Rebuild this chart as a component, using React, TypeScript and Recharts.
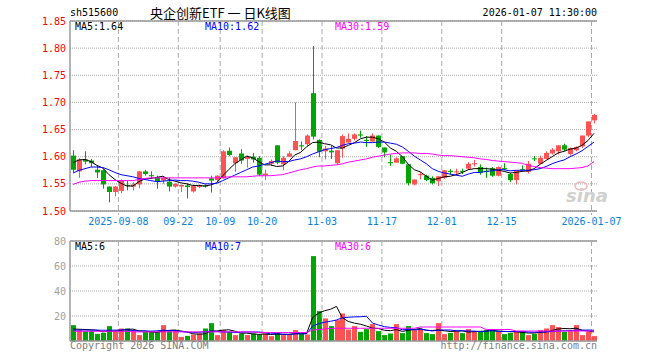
import React from "react";
import {
  ComposedChart,
  Bar,
  Line,
  XAxis,
  YAxis,
  CartesianGrid,
  ReferenceLine,
} from "recharts";

// trading days shown on the K-line chart
const dates = [
  "2025-08-27", "2025-08-28", "2025-08-29", "2025-09-01", "2025-09-02", "2025-09-03", "2025-09-04", "2025-09-05",
  "2025-09-08", "2025-09-09", "2025-09-10", "2025-09-11", "2025-09-12", "2025-09-15", "2025-09-16", "2025-09-17",
  "2025-09-18", "2025-09-19", "2025-09-22", "2025-09-23", "2025-09-24", "2025-09-25", "2025-09-26", "2025-09-29",
  "2025-09-30", "2025-10-09", "2025-10-10", "2025-10-13", "2025-10-14", "2025-10-15", "2025-10-16", "2025-10-17",
  "2025-10-20", "2025-10-21", "2025-10-22", "2025-10-23", "2025-10-24", "2025-10-27", "2025-10-28", "2025-10-29",
  "2025-10-30", "2025-10-31", "2025-11-03", "2025-11-04", "2025-11-05", "2025-11-06", "2025-11-07", "2025-11-10",
  "2025-11-11", "2025-11-12", "2025-11-13", "2025-11-14", "2025-11-17", "2025-11-18", "2025-11-19", "2025-11-20",
  "2025-11-21", "2025-11-24", "2025-11-25", "2025-11-26", "2025-11-27", "2025-11-28", "2025-12-01", "2025-12-02",
  "2025-12-03", "2025-12-04", "2025-12-05", "2025-12-08", "2025-12-09", "2025-12-10", "2025-12-11", "2025-12-12",
  "2025-12-15", "2025-12-16", "2025-12-17", "2025-12-18", "2025-12-19", "2025-12-22", "2025-12-23", "2025-12-24",
  "2025-12-25", "2025-12-26", "2025-12-29", "2025-12-30", "2025-12-31", "2026-01-05", "2026-01-06", "2026-01-07",
];

const opens = [
  1.602, 1.573, 1.595, 1.593, 1.576, 1.575, 1.545, 1.535, 1.537, 1.548,
  1.545, 1.549, 1.573, 1.566, 1.562, 1.556, 1.554, 1.545, 1.545, 1.547,
  1.536, 1.544, 1.547, 1.560, 1.557, 1.560, 1.611, 1.588, 1.606, 1.596,
  1.600, 1.598, 1.566, 1.587, 1.621, 1.586, 1.600, 1.612, 1.621, 1.623,
  1.717, 1.631, 1.610, 1.611, 1.588, 1.615, 1.626, 1.633, 1.641, 1.631,
  1.628, 1.639, 1.617, 1.590, 1.589, 1.601, 1.586, 1.549, 1.566, 1.565,
  1.561, 1.555, 1.561, 1.574, 1.571, 1.574, 1.578, 1.586, 1.581, 1.574,
  1.579, 1.565, 1.579, 1.568, 1.557, 1.577, 1.572, 1.597, 1.587, 1.596,
  1.606, 1.610, 1.621, 1.605, 1.612, 1.619, 1.639, 1.667,
];
const highs = [
  1.612, 1.597, 1.610, 1.596, 1.584, 1.577, 1.545, 1.546, 1.558, 1.557,
  1.553, 1.574, 1.576, 1.573, 1.565, 1.564, 1.562, 1.551, 1.549, 1.551,
  1.549, 1.549, 1.549, 1.565, 1.566, 1.612, 1.617, 1.599, 1.614, 1.602,
  1.607, 1.601, 1.576, 1.595, 1.621, 1.601, 1.610, 1.700, 1.628, 1.641,
  1.804, 1.632, 1.620, 1.620, 1.612, 1.641, 1.643, 1.643, 1.648, 1.638,
  1.643, 1.639, 1.617, 1.604, 1.599, 1.601, 1.586, 1.558, 1.572, 1.567,
  1.564, 1.564, 1.575, 1.577, 1.578, 1.578, 1.590, 1.594, 1.586, 1.580,
  1.581, 1.582, 1.588, 1.570, 1.575, 1.584, 1.592, 1.601, 1.602, 1.610,
  1.616, 1.621, 1.624, 1.617, 1.619, 1.639, 1.665, 1.679,
];
const lows = [
  1.571, 1.561, 1.586, 1.581, 1.561, 1.541, 1.516, 1.527, 1.533, 1.538,
  1.538, 1.542, 1.565, 1.559, 1.541, 1.550, 1.536, 1.543, 1.535, 1.523,
  1.534, 1.542, 1.543, 1.534, 1.553, 1.560, 1.601, 1.572, 1.587, 1.580,
  1.589, 1.564, 1.557, 1.583, 1.586, 1.575, 1.600, 1.612, 1.612, 1.620,
  1.632, 1.599, 1.595, 1.596, 1.586, 1.598, 1.626, 1.630, 1.635, 1.618,
  1.628, 1.616, 1.599, 1.583, 1.589, 1.586, 1.547, 1.547, 1.558, 1.555,
  1.549, 1.546, 1.559, 1.567, 1.565, 1.568, 1.576, 1.582, 1.567, 1.561,
  1.563, 1.564, 1.575, 1.553, 1.549, 1.573, 1.569, 1.592, 1.586, 1.595,
  1.604, 1.604, 1.610, 1.602, 1.610, 1.616, 1.636, 1.661,
];
const closes = [
  1.576, 1.595, 1.591, 1.588, 1.571, 1.549, 1.535, 1.545, 1.556, 1.547,
  1.549, 1.573, 1.568, 1.564, 1.554, 1.561, 1.545, 1.550, 1.548, 1.544,
  1.546, 1.547, 1.545, 1.556, 1.565, 1.610, 1.603, 1.599, 1.593, 1.600,
  1.595, 1.567, 1.569, 1.592, 1.589, 1.598, 1.606, 1.629, 1.619, 1.639,
  1.637, 1.609, 1.615, 1.608, 1.612, 1.638, 1.633, 1.641, 1.639, 1.629,
  1.639, 1.618, 1.608, 1.588, 1.597, 1.587, 1.551, 1.558, 1.568, 1.557,
  1.551, 1.564, 1.575, 1.572, 1.573, 1.572, 1.587, 1.588, 1.571, 1.572,
  1.565, 1.581, 1.577, 1.557, 1.575, 1.576, 1.587, 1.596, 1.598, 1.607,
  1.613, 1.621, 1.613, 1.616, 1.618, 1.639, 1.665, 1.677,
];

// moving averages as drawn on the chart
const ma5 = [
  1.589, 1.594, 1.595, 1.591, 1.584, 1.579, 1.567, 1.558, 1.551, 1.546,
  1.546, 1.554, 1.559, 1.560, 1.562, 1.564, 1.558, 1.555, 1.552, 1.550,
  1.547, 1.547, 1.546, 1.548, 1.552, 1.565, 1.576, 1.587, 1.594, 1.601,
  1.598, 1.591, 1.585, 1.585, 1.582, 1.583, 1.591, 1.603, 1.608, 1.618,
  1.626, 1.627, 1.624, 1.622, 1.616, 1.616, 1.621, 1.626, 1.633, 1.636,
  1.636, 1.633, 1.627, 1.616, 1.610, 1.600, 1.586, 1.576, 1.572, 1.564,
  1.557, 1.560, 1.563, 1.564, 1.567, 1.571, 1.576, 1.578, 1.578, 1.578,
  1.577, 1.575, 1.573, 1.570, 1.571, 1.573, 1.574, 1.578, 1.586, 1.593,
  1.600, 1.607, 1.610, 1.614, 1.616, 1.621, 1.630, 1.643,
];
const ma10 = [
  1.570, 1.575, 1.578, 1.581, 1.581, 1.580, 1.576, 1.571, 1.567, 1.565,
  1.563, 1.560, 1.558, 1.556, 1.554, 1.555, 1.556, 1.557, 1.556, 1.556,
  1.555, 1.553, 1.550, 1.550, 1.551, 1.556, 1.561, 1.566, 1.571, 1.576,
  1.581, 1.583, 1.586, 1.589, 1.592, 1.591, 1.591, 1.594, 1.596, 1.600,
  1.605, 1.609, 1.613, 1.615, 1.617, 1.621, 1.624, 1.625, 1.627, 1.626,
  1.626, 1.627, 1.627, 1.625, 1.623, 1.618, 1.610, 1.601, 1.594, 1.587,
  1.578, 1.573, 1.570, 1.568, 1.566, 1.564, 1.568, 1.571, 1.571, 1.573,
  1.574, 1.576, 1.576, 1.574, 1.575, 1.575, 1.575, 1.576, 1.578, 1.582,
  1.587, 1.591, 1.594, 1.600, 1.605, 1.611, 1.619, 1.627,
];
const ma30 = [
  1.549, 1.553, 1.555, 1.556, 1.556, 1.556, 1.556, 1.556, 1.556, 1.556,
  1.556, 1.558, 1.560, 1.561, 1.561, 1.561, 1.561, 1.561, 1.561, 1.561,
  1.561, 1.561, 1.561, 1.561, 1.561, 1.562, 1.563, 1.563, 1.563, 1.563,
  1.564, 1.565, 1.565, 1.565, 1.566, 1.567, 1.570, 1.573, 1.576, 1.578,
  1.581, 1.583, 1.583, 1.584, 1.585, 1.587, 1.590, 1.592, 1.594, 1.596,
  1.599, 1.601, 1.603, 1.605, 1.606, 1.607, 1.607, 1.607, 1.606, 1.606,
  1.605, 1.603, 1.602, 1.602, 1.601, 1.600, 1.599, 1.598, 1.596, 1.595,
  1.593, 1.592, 1.591, 1.590, 1.589, 1.588, 1.584, 1.582, 1.580, 1.579,
  1.578, 1.578, 1.578, 1.578, 1.579, 1.580, 1.583, 1.591,
];

// volume (万手) and its averages
const vols = [
  12.7, 8.7, 7.9, 7.9, 5.7, 6.5, 11.9, 7.9, 10.0, 10.0,
  7.9, 4.7, 7.3, 7.3, 7.3, 12.7, 7.9, 8.7, 3.3, 4.1,
  5.2, 6.0, 10.0, 14.3, 4.7, 8.7, 7.3, 4.7, 6.0, 4.7,
  6.0, 5.2, 6.0, 3.9, 6.5, 4.7, 5.2, 8.7, 6.0, 5.2,
  67.9, 23.9, 18.0, 11.9, 16.7, 22.0, 9.2, 11.9, 7.3, 9.5,
  13.5, 7.9, 4.7, 6.0, 13.5, 6.3, 11.9, 8.7, 9.5, 6.3,
  5.5, 14.3, 5.5, 6.5, 7.9, 6.3, 9.5, 7.3, 7.3, 8.7,
  9.5, 7.3, 5.5, 6.5, 7.9, 7.3, 4.7, 5.7, 8.7, 10.0,
  12.7, 11.1, 7.3, 7.9, 12.7, 4.7, 7.3, 3.9,
];
const vma5 = [
  9.6, 9.4, 9.2, 9.0, 8.6, 7.3, 8.0, 8.0, 8.4, 9.3,
  9.5, 8.1, 8.0, 7.4, 6.9, 7.9, 8.5, 8.8, 8.0, 7.3,
  5.8, 5.5, 5.7, 7.9, 8.0, 8.7, 9.0, 7.9, 6.3, 6.3,
  5.7, 5.3, 5.6, 5.2, 5.5, 5.3, 5.3, 5.8, 6.2, 6.0,
  18.6, 22.3, 24.2, 25.4, 27.7, 18.5, 15.6, 14.3, 13.4, 12.0,
  10.3, 10.0, 8.6, 8.3, 9.1, 7.7, 8.5, 9.3, 10.0, 8.5,
  8.4, 8.9, 8.2, 7.6, 7.9, 8.1, 7.1, 7.5, 7.7, 7.8,
  8.5, 8.0, 7.7, 7.5, 7.3, 6.9, 6.4, 6.4, 6.9, 7.3,
  8.4, 9.6, 10.0, 9.8, 10.3, 8.7, 8.0, 7.3,
];
const vma10 = [
  8.8, 8.8, 8.8, 8.7, 8.7, 8.6, 8.6, 8.7, 8.8, 8.9,
  8.4, 8.0, 8.0, 7.9, 8.1, 8.7, 8.3, 8.4, 7.7, 7.1,
  6.9, 7.0, 7.3, 8.0, 7.7, 7.3, 7.2, 6.8, 7.1, 7.2,
  7.2, 7.2, 6.8, 5.7, 5.9, 5.5, 5.3, 5.7, 5.7, 5.7,
  11.9, 13.8, 15.0, 15.8, 16.8, 18.6, 19.0, 19.3, 19.4, 19.8,
  14.4, 12.8, 11.5, 10.9, 10.6, 9.0, 9.3, 8.9, 9.2, 8.8,
  8.0, 8.7, 8.8, 8.8, 8.2, 8.2, 8.0, 7.9, 7.6, 7.9,
  8.3, 7.6, 7.6, 7.6, 7.6, 7.7, 7.2, 7.0, 7.2, 7.3,
  7.6, 8.0, 8.2, 8.3, 8.8, 8.6, 8.8, 8.6,
];
const vma30 = [
  7.8, 7.8, 7.8, 7.8, 7.8, 7.8, 7.8, 7.8, 7.8, 7.8,
  7.3, 7.3, 7.3, 7.3, 7.3, 7.3, 7.3, 7.3, 7.3, 7.3,
  7.3, 7.3, 7.3, 7.3, 7.3, 7.3, 7.3, 7.3, 7.3, 7.3,
  7.3, 6.8, 6.8, 6.8, 6.8, 6.8, 6.8, 6.8, 6.8, 6.8,
  8.7, 9.2, 9.7, 10.0, 10.2, 10.2, 10.2, 10.2, 10.2, 10.2,
  10.2, 10.2, 10.2, 10.2, 10.2, 10.2, 10.2, 10.2, 11.2, 11.2,
  11.2, 11.2, 11.2, 11.2, 11.2, 11.2, 11.2, 11.2, 11.2, 9.2,
  9.2, 9.2, 9.2, 9.2, 8.0, 8.0, 8.0, 8.0, 8.0, 8.0,
  8.0, 8.0, 8.0, 8.0, 8.0, 8.0, 8.0, 8.0,
];

const tickDates = ["2025-09-08", "2025-09-22", "2025-10-09", "2025-10-20", "2025-11-03", "2025-11-17", "2025-12-01", "2025-12-15", "2026-01-07"];
const tickLabels = ["2025-09-08", "09-22", "10-09", "10-20", "11-03", "11-17", "12-01", "12-15", "2026-01-07"];
const priceTicks = [1.5, 1.55, 1.6, 1.65, 1.7, 1.75, 1.8, 1.85];
const volTicks = [0, 20, 40, 60, 80];

const priceLegend = ["MA5:1.64", "MA10:1.62", "MA30:1.59"];
const volLegend = ["MA5:6", "MA10:7", "MA30:6"];

const UP = "#ff5252";
const DOWN = "#00a600";
const FRAME = "#999";
const GRID = "#aaa";
const MONO = "'DejaVu Sans Mono', 'Liberation Mono', monospace";

const rows = dates.map((d, i) => ({
  date: d,
  open: opens[i],
  high: highs[i],
  low: lows[i],
  close: closes[i],
  range: [lows[i], highs[i]],
  ma5: ma5[i],
  ma10: ma10[i],
  ma30: ma30[i],
  vol: vols[i],
  vma5: vma5[i],
  vma10: vma10[i],
  vma30: vma30[i],
}));

function Candle(props: any) {
  const { x, y, width, height, payload } = props;
  const top = Math.min(y, y + height);
  const h = Math.abs(height);
  const { open, close, high, low } = payload;
  const k = high > low ? h / (high - low) : 0;
  const yO = top + (high - open) * k;
  const yC = top + (high - close) * k;
  const cx = Math.round(x + width / 2);
  const color = close >= open ? UP : DOWN;
  const bTop = Math.min(yO, yC);
  const bH = Math.max(1, Math.abs(yO - yC));
  return (
    <g>
      <line x1={cx + 0.5} x2={cx + 0.5} y1={top} y2={top + h} stroke={color} strokeWidth={1} />
      <rect x={cx - 2} y={bTop} width={5} height={bH} fill={color} />
    </g>
  );
}

function VolBar(props: any) {
  const { x, y, width, height, payload } = props;
  const cx = Math.round(x + width / 2);
  const color = payload.close >= payload.open ? UP : DOWN;
  return <rect x={cx - 2} y={y} width={5} height={Math.max(0, height)} fill={color} />;
}

const dashLine = (ext: number) => (p: any) => {
  const yb = Math.max(p.y1, p.y2);
  const yt = Math.min(p.y1, p.y2);
  return <line x1={p.x1 - 2.5} x2={p.x2 - 2.5} y1={yt} y2={yb + ext} stroke={GRID} strokeDasharray="5 3" />;
};

const PriceTick = (p: any) => (
  <text x={66} y={p.y} dy={3.5} textAnchor="end" fill="#ff0000" fontSize={10} fontFamily={MONO}>
    {Number(p.payload.value).toFixed(2)}
  </text>
);

const VolTick = (p: any) =>
  p.payload.value === 0 ? (
    <text x={64} y={p.y} dy={4} textAnchor="end" fill="#c0c0c0" fontSize={10} fontStyle="italic" fontFamily="'Noto Sans CJK SC', sans-serif">
      x万
    </text>
  ) : (
    <text x={66} y={p.y} dy={3.5} textAnchor="end" fill="#a0a0a0" fontSize={10} fontFamily={MONO}>
      {p.payload.value}
    </text>
  );

const DateTick = (p: any) => {
  const i = tickDates.indexOf(p.payload.value);
  return (
    <text x={p.x - 2.5} y={p.y + 14} textAnchor="middle" fill="#0a7fe0" fontSize={10} fontFamily={MONO}>
      {tickLabels[i]}
    </text>
  );
};

export default function App() {
  return (
    <div style={{ position: "absolute", left: 0, top: 0, width: 660, height: 360, background: "#fff" }}>
      <div style={{ position: "absolute", left: 0, top: 0 }}>
        <ComposedChart width={660} height={232} data={rows} margin={{ top: 21, right: 63, left: 0, bottom: 0 }} barCategoryGap={1}>
          <CartesianGrid vertical={false} stroke={GRID} strokeDasharray="1 1" />
          <XAxis
            dataKey="date"
            ticks={tickDates}
            interval={0}
            height={21}
            tickLine={false}
            tickSize={0}
            tickMargin={0}
            axisLine={{ stroke: FRAME, strokeWidth: 1.5 }}
            tick={DateTick}
          />
          <YAxis
            domain={[1.5, 1.85]}
            ticks={priceTicks}
            width={70}
            tickLine={false}
            axisLine={{ stroke: FRAME, strokeWidth: 1.5 }}
            tick={PriceTick}
            allowDataOverflow
          />
          <YAxis yAxisId="r" orientation="right" domain={[1.5, 1.85]} width={0} tick={false} tickLine={false} axisLine={{ stroke: FRAME, strokeWidth: 1.5 }} />
          <ReferenceLine y={1.85} stroke={FRAME} strokeWidth={1.5} />
          {tickDates.map((d) => (
            <ReferenceLine key={d} x={d} shape={dashLine(4)} />
          ))}
          <Bar dataKey="range" shape={Candle} isAnimationActive={false} />
          <Line dataKey="ma5" stroke="#000" strokeWidth={1} dot={false} type="linear" isAnimationActive={false} />
          <Line dataKey="ma10" stroke="#0000ff" strokeWidth={1} dot={false} type="linear" isAnimationActive={false} />
          <Line dataKey="ma30" stroke="#ff00ff" strokeWidth={1} dot={false} type="linear" isAnimationActive={false} />
        </ComposedChart>
      </div>
      <div style={{ position: "absolute", left: 0, top: 232 }}>
        <ComposedChart width={660} height={111} data={rows} margin={{ top: 9, right: 63, left: 0, bottom: 0 }} barCategoryGap={1}>
          <CartesianGrid vertical={false} stroke={GRID} strokeDasharray="1 1" />
          <XAxis dataKey="date" height={2} tick={false} tickLine={false} axisLine={{ stroke: FRAME, strokeWidth: 1.5 }} />
          <YAxis
            domain={[0, 80]}
            ticks={volTicks}
            width={70}
            tickLine={false}
            axisLine={{ stroke: FRAME, strokeWidth: 1.5 }}
            tick={VolTick}
            allowDataOverflow
          />
          <YAxis yAxisId="r" orientation="right" domain={[0, 80]} width={0} tick={false} tickLine={false} axisLine={{ stroke: FRAME, strokeWidth: 1.5 }} />
          <ReferenceLine y={80} stroke={FRAME} strokeWidth={1.5} />
          {tickDates.map((d) => (
            <ReferenceLine key={d} x={d} shape={dashLine(0)} />
          ))}
          <Bar dataKey="vol" shape={VolBar} isAnimationActive={false} />
          <Line dataKey="vma5" stroke="#000" strokeWidth={1} dot={false} type="linear" isAnimationActive={false} />
          <Line dataKey="vma10" stroke="#0000ff" strokeWidth={1} dot={false} type="linear" isAnimationActive={false} />
          <Line dataKey="vma30" stroke="#ff00ff" strokeWidth={1} dot={false} type="linear" isAnimationActive={false} />
        </ComposedChart>
      </div>
      <svg width={660} height={360} style={{ position: "absolute", left: 0, top: 0, pointerEvents: "none" }}>
        <text x={70} y={16} fontSize={10} fontFamily={MONO} fill="#000">sh515600</text>
        <text x={150} y={17.5} fontSize={13} fontFamily="'Noto Sans CJK SC', sans-serif" fill="#000">央企创新ETF 一 日K线图</text>
        <text x={597} y={16} textAnchor="end" fontSize={10} fontFamily={MONO} fill="#000">2026-01-07 11:30:00</text>
        <text x={75} y={30} fontSize={10} fontFamily={MONO} fill="#000">{priceLegend[0]}</text>
        <text x={205} y={30} fontSize={10} fontFamily={MONO} fill="#0000ff">{priceLegend[1]}</text>
        <text x={335} y={30} fontSize={10} fontFamily={MONO} fill="#ff00ff">{priceLegend[2]}</text>
        <text x={75} y={250} fontSize={10} fontFamily={MONO} fill="#000">{volLegend[0]}</text>
        <text x={205} y={250} fontSize={10} fontFamily={MONO} fill="#0000ff">{volLegend[1]}</text>
        <text x={335} y={250} fontSize={10} fontFamily={MONO} fill="#ff00ff">{volLegend[2]}</text>
        <ellipse cx={581} cy={186} rx={6} ry={4} fill="none" stroke="#f2b8b8" strokeWidth={1.5} />
        <text x={566} y={202} fontSize={18} fontWeight="bold" fontStyle="italic" fontFamily="'DejaVu Sans', sans-serif" fill="#d0d0d0">sina</text>
        <text x={70} y={349} fontSize={10} fontFamily={MONO} fill="#808080">Copyright 2026 SINA.COM</text>
        <text x={597} y={349} textAnchor="end" fontSize={10} fontFamily={MONO} fill="#808080">http://finance.sina.com.cn</text>
      </svg>
    </div>
  );
}
